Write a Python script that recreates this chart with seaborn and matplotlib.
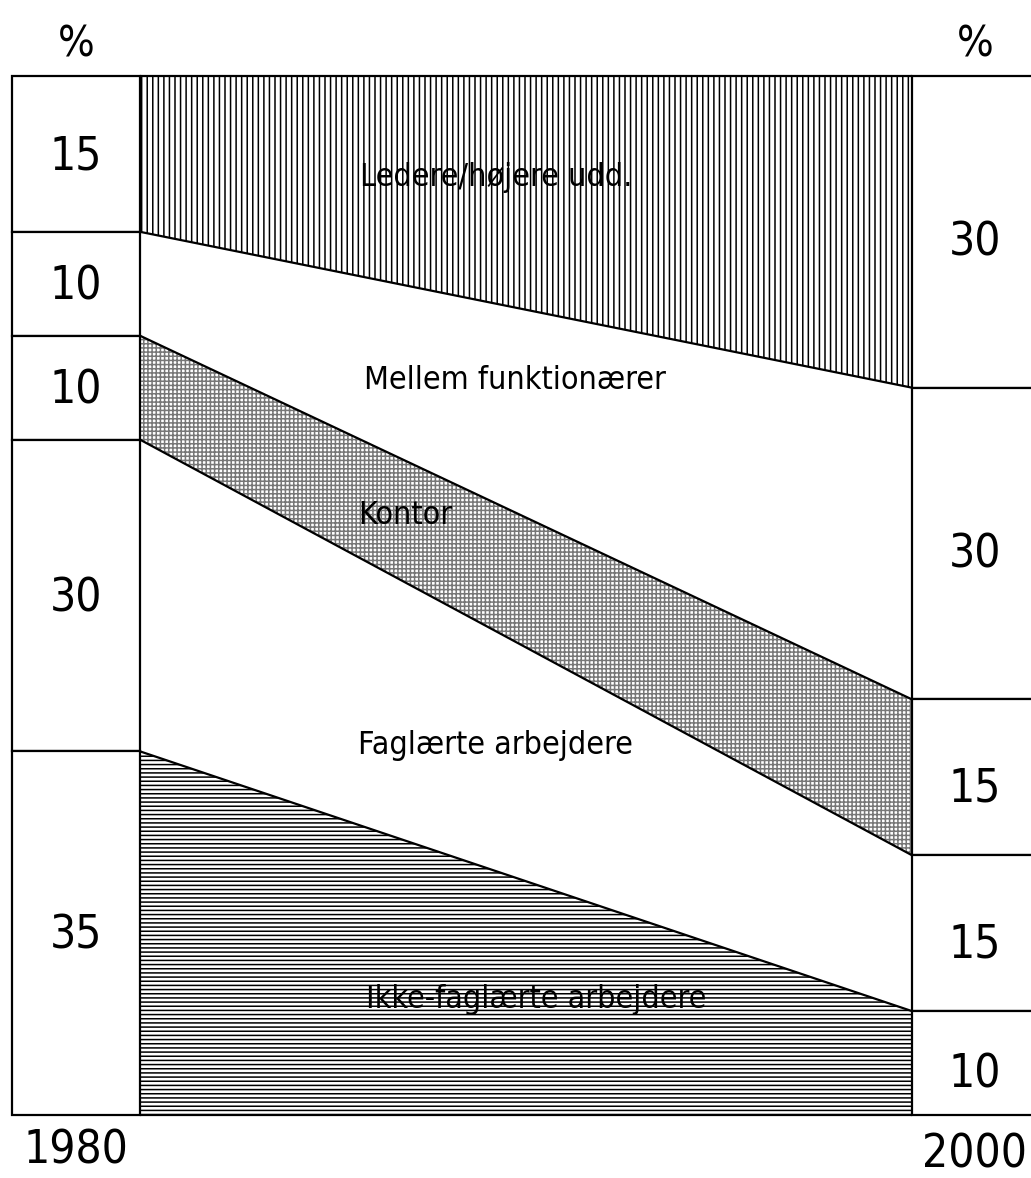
import os
import numpy as np
import pandas as pd
import seaborn as sns
import matplotlib.pyplot as plt
from matplotlib import font_manager

# Occupational distribution, 1980 vs 2000 (top to bottom)
categories = ["Ledere/højere udd.", "Mellem funktionærer", "Kontor",
              "Faglærte arbejdere", "Ikke-faglærte arbejdere"]
years = [1980, 2000]
share_1980 = [15, 10, 10, 30, 35]
share_2000 = [30, 30, 15, 15, 10]

sns.set_theme(style="white")
plt.rcParams["font.family"] = ["Liberation Sans", "DejaVu Sans"]
plt.rcParams["hatch.linewidth"] = 1.1


def pick_narrow():
    # look for a condensed sans face, the original uses a narrow grotesk
    prefs = ["liberationsansnarrow-regular", "dejavusanscondensed.",
             "notosans-condensed.", "notosans-semicondensed.",
             "roboto_condensed-regular", "robotocondensed-regular"]
    files = [f.fname for f in font_manager.fontManager.ttflist]
    for p in prefs:
        for fn in files:
            if p in os.path.basename(fn).lower():
                return font_manager.FontProperties(fname=fn)
    for fn in files:
        b = os.path.basename(fn).lower()
        if ("condensed" in b or "narrow" in b) and "serif" not in b \
                and "mono" not in b and "bold" not in b and "italic" not in b \
                and "light" not in b and "thin" not in b and "black" not in b:
            return font_manager.FontProperties(fname=fn)
    return font_manager.FontProperties(family=["Liberation Sans", "DejaVu Sans"],
                                       stretch="condensed")


fp = pick_narrow()


def tx(x, y, s, size, **kw):
    f = fp.copy()
    f.set_size(size)
    ax.text(x, y, s, fontproperties=f, color="black", zorder=4, **kw)


# cumulative boundaries from the top
cum_1980 = np.concatenate([[0], np.cumsum(share_1980)])
cum_2000 = np.concatenate([[0], np.cumsum(share_2000)])

bounds = pd.DataFrame({
    "year": np.repeat(years, len(cum_1980)),
    "boundary": list(range(len(cum_1980))) * 2,
    "level": np.concatenate([cum_1980, cum_2000]),
})

fig = plt.figure(figsize=(10.31, 11.78), dpi=100)
ax = fig.add_axes([0, 0, 1, 1])

# bands between the two years
hatches = ["|||", None, "++++", None, "----"]
hcolors = ["black", "black", "#777777", "black", "black"]
for i, cat in enumerate(categories):
    ax.fill_between(years, [cum_1980[i], cum_2000[i]],
                    [cum_1980[i + 1], cum_2000[i + 1]],
                    facecolor="white", hatch=hatches[i],
                    edgecolor=hcolors[i], linewidth=0, zorder=1)

sns.lineplot(data=bounds, x="year", y="level", units="boundary",
             estimator=None, color="black", linewidth=1.6, ax=ax,
             legend=False, zorder=3)

# side boxes with the percentages
left_w = 3.32
ax.bar(years[0] - left_w, share_1980, bottom=cum_1980[:-1], width=left_w,
       align="edge", facecolor="white", edgecolor="black", linewidth=1.6,
       zorder=2)
ax.bar(years[1], share_2000, bottom=cum_2000[:-1], width=6,
       align="edge", facecolor="white", edgecolor="black", linewidth=1.6,
       zorder=2)

ax.set_xlim(1976.373, 2003.083)
ax.set_ylim(106.06, -7.31)
ax.axis("off")

mid_1980 = (cum_1980[:-1] + cum_1980[1:]) / 2
mid_2000 = (cum_2000[:-1] + cum_2000[1:]) / 2
xl = years[0] - 1.66
xr = years[1] + 1.63
for m, v in zip(mid_1980, share_1980):
    tx(xl, m + 0.3, str(v), 33, ha="center", va="center")
for m, v in zip(mid_2000, share_2000):
    tx(xr, m + 1.1, str(v), 33, ha="center", va="center")

tx(xl, -3.0, "%", 31, ha="center", va="center")
tx(xr, -3.0, "%", 31, ha="center", va="center")
tx(xl, 103.5, str(years[0]), 33, ha="center", va="center")
tx(xr, 103.8, str(years[1]), 33, ha="center", va="center")

# band labels
label_y = [9.8, 29.3, 42.3, 64.4, 88.9]
label_x = [1985.7, 1985.8, 1985.65, 1985.65, 1985.85]
for cat, lx, ly in zip(categories, label_x, label_y):
    tx(lx, ly, cat, 23, ha="left", va="center")

fig.savefig("out.png", dpi=100, facecolor="white")
